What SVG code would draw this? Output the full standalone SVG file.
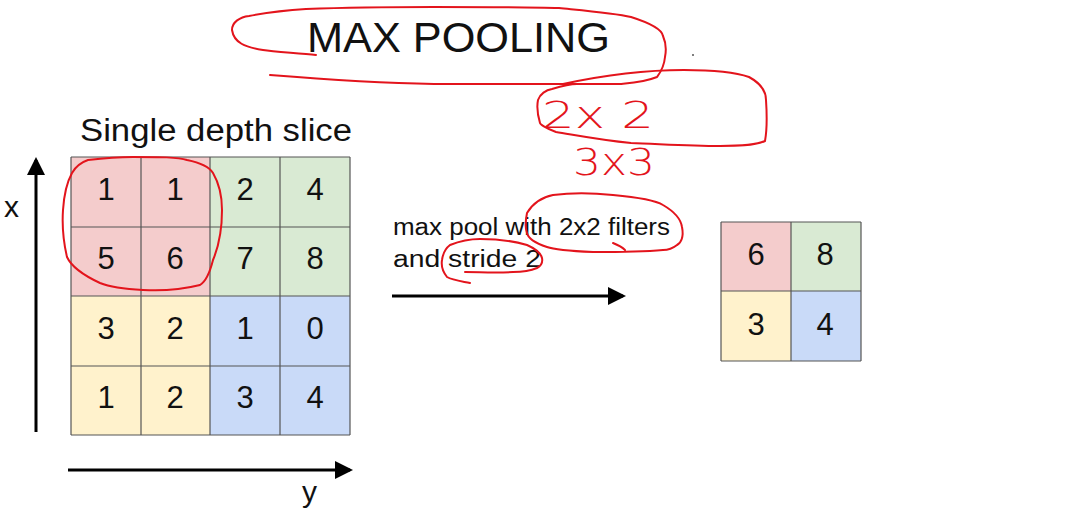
<svg xmlns="http://www.w3.org/2000/svg" width="1079" height="516" viewBox="0 0 1079 516">
<style>
.t{font-family:"Liberation Sans",Arial,sans-serif;fill:#111}
.d{font-family:"Liberation Sans",Arial,sans-serif;font-size:31px;fill:#111;text-anchor:middle}
.g{stroke:#555;stroke-width:1.2}
.r{fill:#f4cccc}.gr{fill:#d9ead3}.y{fill:#fff2cc}.b{fill:#c9daf8}
.ax{stroke:#000;stroke-width:3;fill:none}
.ink{fill:none;stroke:#e3141c;stroke-width:2;stroke-linecap:round;stroke-linejoin:round}
.hw{font-family:"DejaVu Sans","Liberation Sans",sans-serif;font-weight:200;fill:#e3141c;font-size:38px}
</style>
<defs>
<marker id="ah" markerWidth="6" markerHeight="6" refX="5" refY="3" orient="auto" markerUnits="strokeWidth">
<path d="M0,0 L6,3 L0,6 z" fill="#000"/>
</marker>
</defs>
<rect width="1079" height="516" fill="#fff"/>

<g id="title">
<text class="t" x="307" y="52" font-size="43" textLength="303" lengthAdjust="spacingAndGlyphs">MAX POOLING</text>
</g>

<g id="input-grid">
<text class="t" x="80" y="141" font-size="31" textLength="272" lengthAdjust="spacingAndGlyphs">Single depth slice</text>
<rect class="r" x="71" y="157" width="139" height="139"/>
<rect class="gr" x="210" y="157" width="140" height="139"/>
<rect class="y" x="71" y="296" width="139" height="139"/>
<rect class="b" x="210" y="296" width="140" height="139"/>
<g class="g">
<line x1="71" y1="157" x2="350" y2="157"/>
<line x1="71" y1="227" x2="350" y2="227"/>
<line x1="71" y1="296" x2="350" y2="296"/>
<line x1="71" y1="366" x2="350" y2="366"/>
<line x1="71" y1="435" x2="350" y2="435"/>
<line x1="71" y1="157" x2="71" y2="435"/>
<line x1="141" y1="157" x2="141" y2="435"/>
<line x1="210" y1="157" x2="210" y2="435"/>
<line x1="280" y1="157" x2="280" y2="435"/>
<line x1="350" y1="157" x2="350" y2="435"/>
</g>
<text class="d" x="106" y="200">1</text><text class="d" x="175" y="200">1</text><text class="d" x="245" y="200">2</text><text class="d" x="315" y="200">4</text>
<text class="d" x="106" y="269">5</text><text class="d" x="175" y="269">6</text><text class="d" x="245" y="269">7</text><text class="d" x="315" y="269">8</text>
<text class="d" x="106" y="339">3</text><text class="d" x="175" y="339">2</text><text class="d" x="245" y="339">1</text><text class="d" x="315" y="339">0</text>
<text class="d" x="106" y="408">1</text><text class="d" x="175" y="408">2</text><text class="d" x="245" y="408">3</text><text class="d" x="315" y="408">4</text>
<text class="t" x="4" y="217" font-size="30">x</text>
<text class="t" x="302" y="502" font-size="30">y</text>
</g>

<g id="caption">
<text class="t" x="393" y="235" font-size="23" textLength="277" lengthAdjust="spacingAndGlyphs">max pool with 2x2 filters</text>
<text class="t" x="393" y="267" font-size="23" textLength="148" lengthAdjust="spacingAndGlyphs">and stride 2</text>
</g>

<g id="output-grid">
<rect class="r" x="721" y="222" width="70" height="69"/>
<rect class="gr" x="791" y="222" width="70" height="69"/>
<rect class="y" x="721" y="291" width="70" height="70"/>
<rect class="b" x="791" y="291" width="70" height="70"/>
<g class="g">
<line x1="721" y1="222" x2="861" y2="222"/>
<line x1="721" y1="291" x2="861" y2="291"/>
<line x1="721" y1="361" x2="861" y2="361"/>
<line x1="721" y1="222" x2="721" y2="361"/>
<line x1="791" y1="222" x2="791" y2="361"/>
<line x1="861" y1="222" x2="861" y2="361"/>
</g>
<text class="d" x="756" y="265">6</text><text class="d" x="825" y="265">8</text>
<text class="d" x="756" y="335">3</text><text class="d" x="825" y="335">4</text>
</g>

<g id="connectors">
<line class="ax" x1="36" y1="432" x2="36" y2="160" marker-end="url(#ah)"/>
<line class="ax" x1="68" y1="470" x2="350" y2="470" marker-end="url(#ah)"/>
<line class="ax" x1="392" y1="296" x2="623" y2="296" marker-end="url(#ah)"/>
</g>

<g id="annotations">
<path class="ink" d="M316,55 C300,53 275,52 263,50 C245,47 234,43 232,30 C232,22 240,17 249,16 C270,12 290,10 306,9 C360,7 400,7 434,7 C480,7 530,7 559,8 C590,11 615,13 631,17 C650,23 662,30 663,36 C667,45 666,52 665,57 C664,68 660,73 657,77 C645,82 630,83 620,84 C560,84 500,84 434,84 C380,83 320,79 270,75"/>
<path class="ink" d="M563,84 C600,76 640,70 684,70 C710,70 735,72 749,77 C762,84 766,92 766,100 C767,115 767,130 765,141 C755,146 735,146 720,146 C690,146 660,144 631,143 C600,140 575,135 556,132 C545,128 540,124 540,123 C537,113 537,105 538,100 C540,94 546,90 552,89 C562,86 570,84 577,84"/>
<path class="ink" d="M88,160 C105,158 120,157 133,157 C160,157 178,157 187,160 C202,163 210,168 213,173 C220,185 222,200 222,210 C222,230 218,248 213,260 C210,272 205,282 200,285 C180,290 160,291 143,290 C125,289 110,287 100,283 C85,276 72,268 67,257 C63,240 62,225 63,210 C64,195 67,182 72,173 C76,166 82,162 88,160"/>
<path class="ink" d="M527,213 C533,203 543,197 553,195 C575,192 595,193 613,195 C635,197 655,200 663,205 C675,212 681,220 682,227 C684,237 681,243 677,245 C672,249 668,250 663,250 C640,252 615,252 593,252 C570,251 555,250 547,247 C535,243 528,238 527,233 C525,228 525,223 527,213 M613,243 C618,245 622,247 625,250"/>
<path class="ink" d="M470,283 C460,281 452,280 447,277 C443,272 441,266 442,260 C443,253 446,248 450,245 C460,241 470,239 480,239 C500,239 517,242 527,245 C536,249 541,254 542,258 C543,263 541,266 537,268 C530,271 522,272 513,272 C495,273 480,272 465,272"/>
<text class="hw" x="542" y="128" textLength="112" lengthAdjust="spacingAndGlyphs">2x 2</text>
<text class="hw" x="573" y="175" font-size="34" textLength="82" lengthAdjust="spacingAndGlyphs">3x3</text>
<circle cx="693" cy="55" r="1" fill="#555"/>
</g>
</svg>
